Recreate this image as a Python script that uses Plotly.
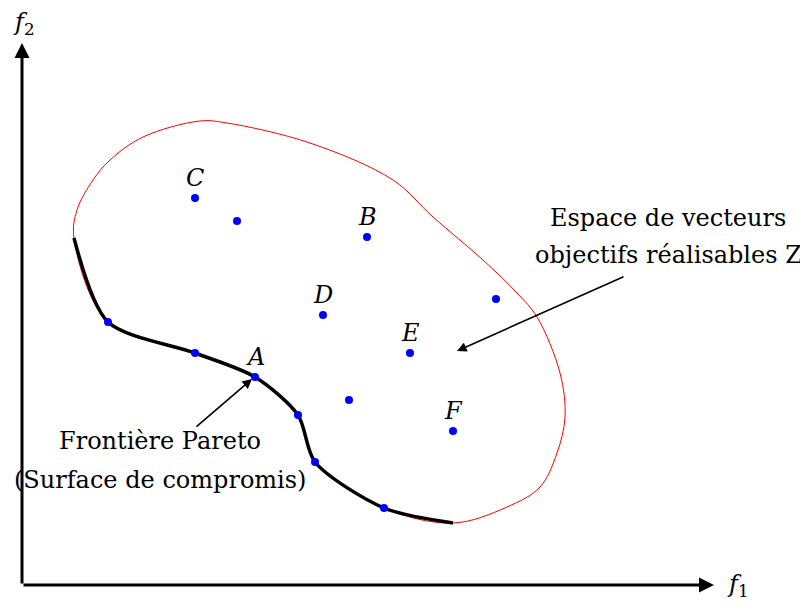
import plotly.graph_objects as go

# Pareto front (f1, f2)
pareto_f1 = [52, 86, 173, 233, 276, 293, 362, 431]
pareto_f2 = [347, 263, 232, 208, 170, 123, 77, 62]

# upper boundary of the feasible objective space, from front start to front end
bound_f1 = [52, 55, 71, 88, 121, 178, 205, 288, 371, 411, 461, 495, 515, 538, 543, 535, 518, 485, 431]
bound_f2 = [347, 375, 405, 425, 448, 464, 462, 442, 405, 368, 325, 292, 268, 212, 168, 132, 98, 78, 62]

# solutions on the front
front_f1 = [86, 173, 233, 276, 293, 362]
front_f2 = [263, 232, 208, 170, 123, 77]

# other feasible solutions
other_f1 = [173, 215, 345, 301, 388, 327, 431, 474]
other_f2 = [387, 364, 348, 270, 232, 185, 154, 286]

# labelled points
labels = ["A", "B", "C", "D", "E", "F"]
label_f1 = [233, 345, 173, 301, 388, 431]
label_f2 = [208, 348, 387, 270, 232, 154]

pareto_text = ["Frontière Pareto", "(Surface de compromis)"]
space_text = ["Espace de vecteurs", "objectifs réalisables Z"]

font = "DejaVu Serif"
fsize = 24

fig = go.Figure()

# feasible region outline (boundary + front, closed)
fig.add_trace(go.Scatter(
    x=bound_f1 + pareto_f1[::-1][1:],
    y=bound_f2 + pareto_f2[::-1][1:],
    mode="lines", line=dict(color="red", width=1, shape="spline", smoothing=1.0),
    hoverinfo="skip"))

fig.add_trace(go.Scatter(
    x=pareto_f1, y=pareto_f2, mode="lines",
    line=dict(color="black", width=3.5, shape="spline", smoothing=0.8),
    hoverinfo="skip"))

fig.add_trace(go.Scatter(
    x=front_f1 + other_f1, y=front_f2 + other_f2, mode="markers",
    marker=dict(color="blue", size=8), hoverinfo="skip"))

for name, lx, ly in zip(labels, label_f1, label_f2):
    fig.add_annotation(x=lx, y=ly + 20, text=f"<i>{name}</i>", showarrow=False,
                       font=dict(family=font, size=fsize, color="black"))

# axes with arrowheads
fig.add_annotation(x=0, y=542, ax=0, ay=0, xref="x", yref="y", axref="x", ayref="y",
                   text="", showarrow=True, arrowhead=2, arrowsize=1, arrowwidth=3,
                   arrowcolor="black", standoff=0)
fig.add_annotation(x=692, y=0, ax=0, ay=0, xref="x", yref="y", axref="x", ayref="y",
                   text="", showarrow=True, arrowhead=2, arrowsize=1, arrowwidth=3,
                   arrowcolor="black", standoff=0)
fig.add_annotation(x=2, y=562, text="<i>f</i><sub>2</sub>", showarrow=False,
                   font=dict(family=font, size=fsize, color="black"))
fig.add_annotation(x=716, y=0, text="<i>f</i><sub>1</sub>", showarrow=False,
                   font=dict(family=font, size=fsize, color="black"))

# callouts
fig.add_annotation(x=230, y=206, ax=173, ay=157, xref="x", yref="y", axref="x", ayref="y",
                   text="", showarrow=True, arrowhead=2, arrowsize=1.2, arrowwidth=1.6,
                   arrowcolor="black", standoff=0)
for line, ty in zip(pareto_text, [144, 105]):
    fig.add_annotation(x=138, y=ty, text=line, showarrow=False,
                       font=dict(family=font, size=fsize, color="black"))
fig.add_annotation(x=435, y=234, ax=603, ay=309, xref="x", yref="y", axref="x", ayref="y",
                   text="", showarrow=True, arrowhead=2, arrowsize=1.2, arrowwidth=1.6,
                   arrowcolor="black", standoff=0)
for line, ty in zip(space_text, [367, 330]):
    fig.add_annotation(x=646, y=ty, text=line, showarrow=False,
                       font=dict(family=font, size=fsize, color="black"))

# page body adds an 8px offset, so the ranges are shifted to compensate
fig.update_xaxes(range=[-14, 794], visible=False)
fig.update_yaxes(range=[-29, 577], visible=False)
fig.update_layout(width=808, height=606, margin=dict(l=0, r=0, t=0, b=0),
                  plot_bgcolor="white", paper_bgcolor="white", showlegend=False)
fig.write_html("out.html")
